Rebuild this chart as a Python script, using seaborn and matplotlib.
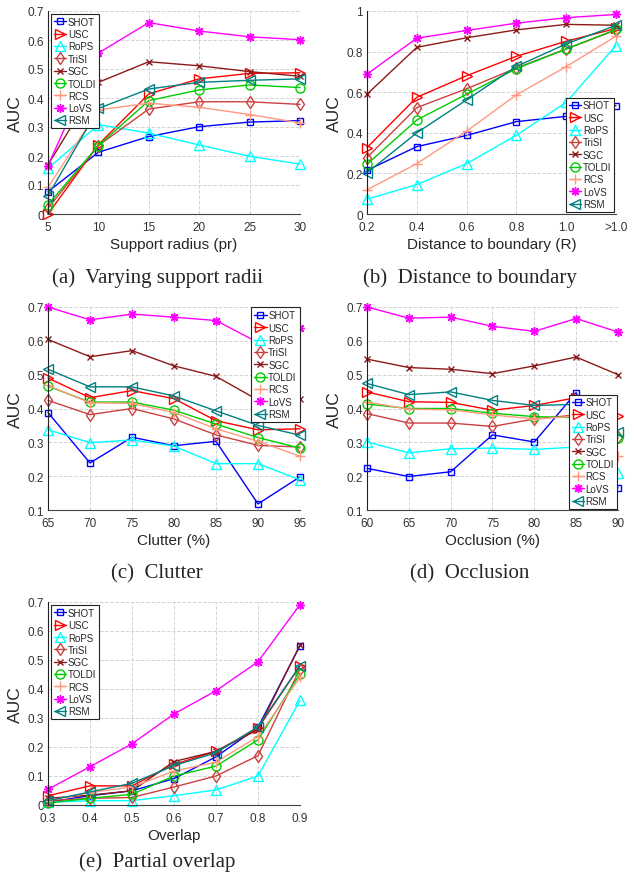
import numpy as np
import pandas as pd
import matplotlib
matplotlib.use('Agg')
import matplotlib.pyplot as plt
import seaborn as sns

methods = ['SHOT', 'USC', 'RoPS', 'TriSI', 'SGC', 'TOLDI', 'RCS', 'LoVS', 'RSM']

# (a) support radius
radius = [5, 10, 15, 20, 25, 30]
radius_auc = {
    'SHOT':  [0.077, 0.213, 0.267, 0.301, 0.317, 0.322],
    'USC':   [0.0, 0.239, 0.414, 0.466, 0.485, 0.487],
    'RoPS':  [0.157, 0.308, 0.279, 0.238, 0.199, 0.172],
    'TriSI': [0.02, 0.236, 0.362, 0.387, 0.387, 0.378],
    'SGC':   [0.17, 0.454, 0.525, 0.511, 0.491, 0.475],
    'TOLDI': [0.032, 0.236, 0.391, 0.428, 0.445, 0.436],
    'RCS':   [0.092, 0.359, 0.382, 0.368, 0.343, 0.314],
    'LoVS':  [0.167, 0.555, 0.660, 0.631, 0.611, 0.601],
    'RSM':   [0.063, 0.364, 0.431, 0.454, 0.461, 0.466],
}

# (b) distance to boundary
boundary = [0.2, 0.4, 0.6, 0.8, 1.0, 1.2]
boundary_labels = ['0.2', '0.4', '0.6', '0.8', '1.0', '>1.0']
boundary_auc = {
    'SHOT':  [0.215, 0.332, 0.387, 0.455, 0.481, 0.534],
    'USC':   [0.327, 0.575, 0.681, 0.777, 0.851, 0.914],
    'RoPS':  [0.073, 0.145, 0.248, 0.388, 0.550, 0.830],
    'TriSI': [0.278, 0.524, 0.617, 0.719, 0.813, 0.906],
    'SGC':   [0.590, 0.821, 0.868, 0.907, 0.934, 0.930],
    'TOLDI': [0.245, 0.463, 0.590, 0.716, 0.813, 0.909],
    'RCS':   [0.119, 0.248, 0.408, 0.587, 0.726, 0.876],
    'LoVS':  [0.689, 0.866, 0.904, 0.940, 0.967, 0.983],
    'RSM':   [0.203, 0.400, 0.562, 0.727, 0.838, 0.929],
}

# (c) clutter
clutter = [65, 70, 75, 80, 85, 90, 95]
clutter_auc = {
    'SHOT':  [0.388, 0.239, 0.315, 0.290, 0.303, 0.118, 0.198],
    'USC':   [0.490, 0.432, 0.453, 0.429, 0.364, 0.337, 0.340],
    'RoPS':  [0.337, 0.299, 0.307, 0.289, 0.237, 0.237, 0.189],
    'TriSI': [0.424, 0.382, 0.400, 0.369, 0.322, 0.291, 0.286],
    'SGC':   [0.604, 0.553, 0.571, 0.526, 0.495, 0.425, 0.427],
    'TOLDI': [0.466, 0.419, 0.419, 0.395, 0.354, 0.314, 0.283],
    'RCS':   [0.468, 0.417, 0.415, 0.388, 0.340, 0.303, 0.259],
    'LoVS':  [0.700, 0.662, 0.679, 0.670, 0.660, 0.595, 0.639],
    'RSM':   [0.516, 0.464, 0.464, 0.437, 0.393, 0.350, 0.321],
}

# (d) occlusion
occlusion = [60, 65, 70, 75, 80, 85, 90]
occlusion_auc = {
    'SHOT':  [0.223, 0.199, 0.213, 0.322, 0.301, 0.447, 0.165],
    'USC':   [0.449, 0.420, 0.418, 0.395, 0.409, 0.432, 0.377],
    'RoPS':  [0.301, 0.269, 0.281, 0.283, 0.279, 0.286, 0.209],
    'TriSI': [0.385, 0.357, 0.357, 0.347, 0.369, 0.381, 0.316],
    'SGC':   [0.546, 0.521, 0.516, 0.503, 0.526, 0.552, 0.500],
    'TOLDI': [0.413, 0.400, 0.400, 0.386, 0.376, 0.373, 0.312],
    'RCS':   [0.419, 0.398, 0.396, 0.381, 0.369, 0.377, 0.259],
    'LoVS':  [0.700, 0.667, 0.670, 0.643, 0.628, 0.666, 0.626],
    'RSM':   [0.474, 0.441, 0.449, 0.424, 0.409, 0.412, 0.330],
}

# (e) partial overlap
overlap = [0.3, 0.4, 0.5, 0.6, 0.7, 0.8, 0.9]
overlap_auc = {
    'SHOT':  [0.010, 0.032, 0.049, 0.091, 0.166, 0.268, 0.549],
    'USC':   [0.032, 0.066, 0.066, 0.140, 0.185, 0.265, 0.480],
    'RoPS':  [0.009, 0.015, 0.015, 0.032, 0.052, 0.100, 0.361],
    'TriSI': [0.015, 0.023, 0.026, 0.062, 0.100, 0.170, 0.470],
    'SGC':   [0.023, 0.034, 0.049, 0.150, 0.185, 0.260, 0.552],
    'TOLDI': [0.007, 0.023, 0.037, 0.100, 0.134, 0.225, 0.452],
    'RCS':   [0.015, 0.043, 0.062, 0.117, 0.148, 0.236, 0.440],
    'LoVS':  [0.054, 0.132, 0.211, 0.314, 0.394, 0.494, 0.691],
    'RSM':   [0.015, 0.045, 0.075, 0.136, 0.180, 0.270, 0.480],
}

colors = {
    'SHOT': '#0000ff', 'USC': '#ff0000', 'RoPS': '#00ffff', 'TriSI': '#cc4040',
    'SGC': '#8c1a1a', 'TOLDI': '#00cc00', 'RCS': '#ff9980', 'LoVS': '#ff00ff',
    'RSM': '#008080',
}
markers = {
    'SHOT': 's', 'USC': '>', 'RoPS': '^', 'TriSI': 'd', 'SGC': 'x',
    'TOLDI': 'o', 'RCS': '+', 'LoVS': (8, 2, 0), 'RSM': '<',
}
msizes = {
    'SHOT': 5, 'USC': 7, 'RoPS': 7, 'TriSI': 6.5, 'SGC': 5,
    'TOLDI': 6.5, 'RCS': 7, 'LoVS': 6.5, 'RSM': 7,
}

sns.set_style('white')
plt.rcParams['font.family'] = ['Liberation Sans', 'DejaVu Sans']

W, H = 634, 878
fig = plt.figure(figsize=(W / 100, H / 100), dpi=100)


def px_axes(x0, x1, ytop, ybot):
    return fig.add_axes([x0 / W, 1 - ybot / H, (x1 - x0) / W, (ybot - ytop) / H])


def draw(ax, xs, table, xlim, ylim, yticks, xticks, xticklabels, xlabel, legend_loc, bpad):
    for m in methods:
        df = pd.DataFrame({'x': xs, 'auc': table[m]})
        sns.lineplot(data=df, x='x', y='auc', ax=ax, color=colors[m], marker=markers[m],
                     markersize=msizes[m], mfc='none', mec=colors[m], mew=1.0,
                     lw=1.0, label=m, clip_on=False)
    ax.set_xlim(*xlim)
    ax.set_ylim(*ylim)
    ax.set_yticks(yticks)
    ax.set_yticklabels([('0' if v == 0 else ('1' if v == 1 else f'{v:g}')) for v in yticks])
    ax.set_xticks(xticks)
    ax.set_xticklabels(xticklabels)
    ax.grid(True, ls='--', color='#d4d4d4', lw=0.7)
    for s in ['top', 'right']:
        ax.spines[s].set_visible(False)
    ax.spines['left'].set_color('#222222')
    ax.spines['bottom'].set_color('#444444')
    ax.tick_params(direction='in', length=3, labelsize=8.5, colors='#333333')
    ax.tick_params(axis='x', pad=5)
    ax.tick_params(axis='y', pad=3)
    ax.set_xlabel(xlabel, fontsize=11, color='#262626', labelpad=3)
    ax.set_ylabel('AUC', fontsize=12.5, color='#262626', labelpad=3)
    leg = ax.legend(loc=legend_loc, fontsize=7, frameon=True, fancybox=False,
                    edgecolor='#222222', framealpha=1, borderaxespad=bpad,
                    handlelength=1.3, handletextpad=0.15, labelspacing=0.24,
                    borderpad=0.3)
    leg.get_frame().set_linewidth(0.8)
    leg.set_zorder(5)


ax_a = px_axes(48, 300, 12, 215)
draw(ax_a, radius, radius_auc, (5, 30), (0, 0.7), np.round(np.arange(0, 0.71, 0.1), 1),
     radius, [str(v) for v in radius], 'Support radius (pr)', 'upper left', 0.3)

ax_b = px_axes(367, 616, 12, 215)
draw(ax_b, boundary, boundary_auc, (0.2, 1.2), (0, 1), np.round(np.arange(0, 1.01, 0.2), 1),
     boundary, boundary_labels, 'Distance to boundary (R)', 'lower right', 0.2)

ax_c = px_axes(48, 300, 308, 511)
draw(ax_c, clutter, clutter_auc, (65, 95), (0.1, 0.7), np.round(np.arange(0.1, 0.71, 0.1), 1),
     clutter, [str(v) for v in clutter], 'Clutter (%)', 'upper right', 0.05)

ax_d = px_axes(367, 618, 308, 511)
draw(ax_d, occlusion, occlusion_auc, (60, 90), (0.1, 0.7), np.round(np.arange(0.1, 0.71, 0.1), 1),
     occlusion, [str(v) for v in occlusion], 'Occlusion (%)', 'lower right', 0.1)

ax_e = px_axes(48, 300, 603, 806)
draw(ax_e, overlap, overlap_auc, (0.3, 0.9), (0, 0.7), np.round(np.arange(0, 0.71, 0.1), 1),
     overlap, [f'{v:g}' for v in overlap], 'Overlap', 'upper left', 0.3)

captions = [
    (157, 278, '(a)  Varying support radii'),
    (470, 278, '(b)  Distance to boundary'),
    (157, 574, '(c)  Clutter'),
    (470, 574, '(d)  Occlusion'),
    (157, 862, '(e)  Partial overlap'),
]
for cx, cy, txt in captions:
    fig.text(cx / W, 1 - cy / H, txt, ha='center', va='center', fontsize=15,
             family=['Liberation Serif', 'DejaVu Serif'])

fig.savefig('out.png', dpi=100)
